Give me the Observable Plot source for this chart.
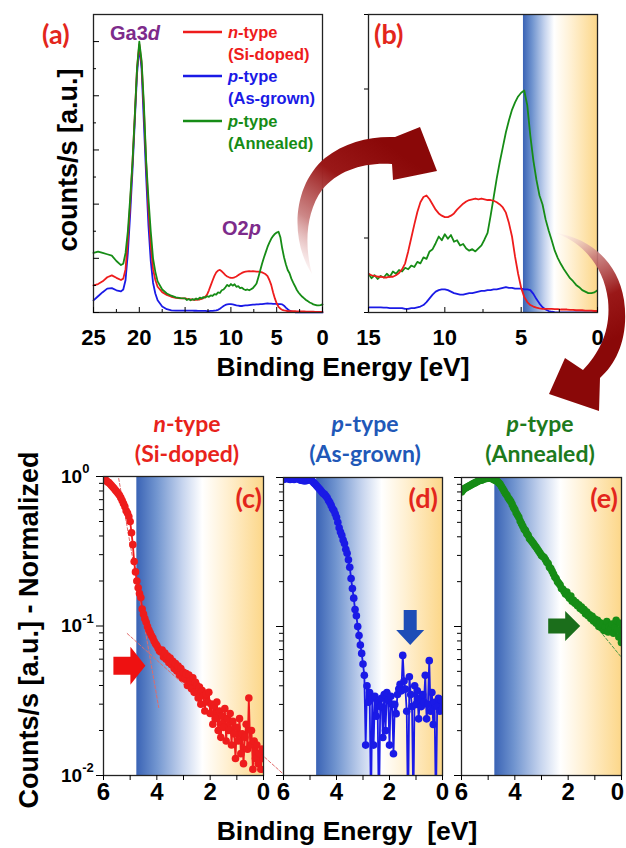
<!DOCTYPE html>
<html><head><meta charset="utf-8">
<script src="https://cdn.jsdelivr.net/npm/d3@7"></script>
<script src="https://cdn.jsdelivr.net/npm/@observablehq/plot@0.6"></script>
<style>
html,body{margin:0;padding:0;background:#fff;}
#fig{position:relative;width:626px;height:848px;overflow:hidden;}
</style></head><body>
<div id="fig"></div>
<script>
// ================= DATA =================
// Top panels (a),(b): energies (eV) and intensities normalised to the Ga3d peak
const ga3dEnergy = [25,24.5,24,23.5,23,22.5,22,21.75,21.5,21.25,21,20.75,20.5,20.25,20,19.75,19.5,19.25,19,18.75,18.5,18.25,18,17.5,17,16.5,16,15.5];
const vbEnergyTop = [15,14.8,14.6,14.4,14.2,14,13.8,13.6,13.4,13.2,13,
  12.8,12.6,12.4,12.2,12,11.8,11.6,11.4,11.2,11,
  10.8,10.6,10.4,10.2,10,9.8,9.6,9.4,9.2,9,
  8.8,8.6,8.4,8.2,8,7.8,7.6,7.4,7.2,7,
  6.8,6.6,6.4,6.2,6,5.8,5.6,5.4,5.2,5,
  4.8,4.6,4.4,4.2,4,3.8,3.6,3.4,3.2,3,
  2.8,2.6,2.4,2.2,2,1.8,1.6,1.4,1.2,1,
  0.8,0.6,0.4,0.2,0];

const nTypeGa3d = [0.1,0.105,0.115,0.13,0.137,0.128,0.12,0.125,0.16,0.27,0.4,0.55,0.72,0.9,0.99,0.92,0.75,0.55,0.38,0.25,0.16,0.12,0.095,0.075,0.065,0.058,0.054,0.052];
const pGrownGa3d = [0.045,0.06,0.075,0.088,0.09,0.082,0.078,0.085,0.12,0.22,0.36,0.52,0.7,0.88,0.98,0.9,0.7,0.5,0.32,0.19,0.11,0.07,0.045,0.022,0.012,0.008,0.007,0.007];
const pAnnealGa3d = [0.22,0.225,0.22,0.215,0.21,0.19,0.175,0.18,0.22,0.3,0.42,0.55,0.72,0.9,1.0,0.93,0.77,0.56,0.42,0.3,0.2,0.15,0.115,0.085,0.07,0.062,0.056,0.053];

const nTypeVB = [0.052,0.050,0.049,0.048,0.048,0.047,0.047,0.048,0.048,0.050,0.053,
  0.058,0.066,0.082,0.100,0.118,0.135,0.148,0.155,0.157,0.152,
  0.145,0.138,0.133,0.130,0.128,0.128,0.130,0.133,0.138,0.142,
  0.146,0.149,0.151,0.152,0.153,0.152,0.153,0.152,0.151,0.151,
  0.150,0.148,0.145,0.141,0.134,0.120,0.102,0.075,0.052,0.033,
  0.021,0.014,0.010,0.008,0.0065,0.0055,0.005,0.005,0.005,0.0048,
  0.0045,0.0045,0.004,0.004,0.004,0.0035,0.0035,0.003,0.003,0.003,
  0.0025,0.0025,0.0025,0.002,0.002];
const pGrownVB = [0.007,0.007,0.007,0.007,0.007,0.0065,0.0065,0.006,0.006,0.006,0.006,
  0.006,0.005,0.005,0.006,0.006,0.007,0.008,0.010,0.014,0.019,
  0.024,0.028,0.030,0.031,0.031,0.030,0.028,0.026,0.025,0.024,
  0.024,0.025,0.026,0.026,0.027,0.028,0.029,0.029,0.030,0.030,
  0.031,0.031,0.032,0.033,0.034,0.033,0.033,0.032,0.032,0.032,
  0.031,0.031,0.030,0.025,0.018,0.012,0.007,0.004,0.002,0.001,
  0.0005,0.0003,0.0002,0.0002,0.0001,0.0001,0.0001,0.0001,0.0001,0.0001,
  0.0001,0.0001,0.0001,0.0001,0.0001];
const pAnnealVB = [0.052,0.046,0.050,0.045,0.049,0.047,0.052,0.048,0.055,0.052,0.057,
  0.055,0.060,0.058,0.063,0.061,0.068,0.066,0.074,0.072,0.082,
  0.085,0.093,0.102,0.097,0.105,0.099,0.104,0.095,0.097,0.090,
  0.092,0.086,0.083,0.085,0.082,0.086,0.090,0.098,0.107,0.130,
  0.155,0.180,0.202,0.222,0.242,0.258,0.272,0.282,0.290,0.295,
  0.298,0.278,0.237,0.204,0.178,0.157,0.145,0.125,0.110,0.097,
  0.083,0.073,0.065,0.058,0.052,0.046,0.042,0.037,0.034,0.030,
  0.028,0.026,0.026,0.027,0.030];

// Bottom panels (c),(d),(e): valence-band edge, normalised counts (log scale)
const edgeEnergy = [6,5.95,5.9,5.85,5.8,5.75,5.7,5.65,5.6,5.55,5.5,5.45,5.4,5.35,5.3,5.25,5.2,5.15,5.1,5.05,
  5,4.95,4.9,4.85,4.8,4.75,4.7,4.65,4.6,4.55,4.5,4.45,4.4,4.35,4.3,4.25,4.2,4.15,4.1,4.05,
  4,3.95,3.9,3.85,3.8,3.75,3.7,3.65,3.6,3.55,3.5,3.45,3.4,3.35,3.3,3.25,3.2,3.15,3.1,3.05,
  3,2.95,2.9,2.85,2.8,2.75,2.7,2.65,2.6,2.55,2.5,2.45,2.4,2.35,2.3,2.25,2.2,2.15,2.1,2.05,
  2,1.95,1.9,1.85,1.8,1.75,1.7,1.65,1.6,1.55,1.5,1.45,1.4,1.35,1.3,1.25,1.2,1.15,1.1,1.05,
  1,0.95,0.9,0.85,0.8,0.75,0.7,0.65,0.6,0.55,0.5,0.45,0.4,0.35,0.3,0.25,0.2,0.15,0.1,0.05,
  0];
const nTypeEdge = [0.98,0.96,0.94,0.92,0.91,0.89,0.87,0.85,0.83,0.81,0.79,0.77,0.75,0.72,0.69,0.66,0.63,0.59,0.57,0.54,
  0.50,0.42,0.35,0.27,0.23,0.20,0.18,0.165,0.155,0.13,0.12,0.112,0.106,0.099,0.094,0.09,0.086,0.083,0.079,0.076,
  0.074,0.071,0.068,0.067,0.069,0.062,0.066,0.060,0.063,0.057,0.061,0.055,0.058,0.052,0.056,0.050,0.054,0.047,0.052,0.045,
  0.049,0.044,0.048,0.040,0.047,0.043,0.038,0.045,0.036,0.042,0.040,0.033,0.039,0.030,0.037,0.034,0.027,0.035,0.031,0.036,
  0.026,0.030,0.022,0.029,0.024,0.031,0.020,0.027,0.018,0.025,0.021,0.028,0.017,0.024,0.020,0.026,0.016,0.023,0.019,0.013,
  0.021,0.017,0.024,0.014,0.019,0.012,0.018,0.022,0.015,0.033,0.016,0.020,0.011,0.017,0.013,0.016,0.012,0.014,0.011,0.015,
  0.013];
const pGrownEdge = [0.97,0.98,0.99,0.98,0.98,0.97,0.99,0.98,0.97,0.98,0.99,0.98,0.97,0.96,0.96,0.95,0.95,0.95,0.96,0.97,
  0.97,0.96,0.94,0.92,0.90,0.88,0.86,0.84,0.82,0.80,0.78,0.77,0.75,0.73,0.70,0.68,0.65,0.62,0.60,0.57,
  0.54,0.50,0.46,0.43,0.41,0.38,0.36,0.33,0.31,0.28,0.25,0.21,0.18,0.155,0.13,0.118,0.10,0.087,0.075,0.066,
  0.056,0.047,0.016,0.040,0.031,0.036,0.006,0.033,0.016,0.034,0.025,0.031,0.005,0.029,0.033,0.018,0.035,0.020,0.036,0.032,
  0.016,0.034,0.030,0.014,0.030,0.026,0.035,0.038,0.041,0.037,0.064,0.043,0.038,0.027,0.005,0.046,0.035,0.029,0.006,0.040,
  0.030,0.037,0.024,0.033,0.029,0.035,0.031,0.047,0.024,0.030,0.059,0.027,0.036,0.022,0.031,0.006,0.029,0.033,0.027,0.032,
  0.028];
const pAnnealEdge = [0.80,0.82,0.84,0.85,0.86,0.87,0.88,0.89,0.90,0.91,0.92,0.93,0.94,0.95,0.96,0.96,0.97,0.98,0.98,0.99,
  0.99,1.0,0.99,0.98,0.97,0.96,0.95,0.94,0.92,0.90,0.87,0.84,0.81,0.78,0.76,0.73,0.71,0.69,0.66,0.63,
  0.61,0.58,0.56,0.54,0.51,0.49,0.47,0.45,0.44,0.42,0.41,0.39,0.38,0.37,0.36,0.35,0.34,0.33,0.32,0.31,
  0.30,0.295,0.29,0.28,0.27,0.265,0.25,0.245,0.235,0.225,0.215,0.21,0.20,0.195,0.19,0.18,0.178,0.172,0.165,0.17,
  0.16,0.155,0.16,0.148,0.15,0.143,0.145,0.138,0.14,0.132,0.135,0.128,0.13,0.122,0.125,0.118,0.12,0.113,0.117,0.109,
  0.112,0.105,0.11,0.10,0.106,0.098,0.104,0.094,0.10,0.108,0.092,0.10,0.096,0.104,0.09,0.098,0.11,0.095,0.085,0.105,
  0.078];

// Linear-extrapolation (dashed) guide lines
const fitSteepC = [{E:5.43, v:0.97}, {E:3.93, v:0.0285}];
const fitTailC  = [{E:5.11, v:0.089}, {E:-0.75, v:0.0102}];
const fitTailE  = [{E:2.6, v:0.23}, {E:0, v:0.062}];

// Shaded gap region start (eV)
const gapStartB = 4.85;
const gapStartEdge = 4.75;

// Block-arrow annotations (data coordinates)
const arrowC = {tail:5.61, tip:4.41, v:0.0538};
const arrowD = {E:1.2, top:0.128, tip:0.0745};
const arrowE = {tail:2.73, tip:1.53, v:0.1};

// Ticks
const xTicksA = [25,20,15,10,5,0], xMinorA = [22.5,17.5,12.5,7.5,2.5];
const xTicksB = [15,10,5,0], xMinorB = [12.5,7.5,2.5];
const xTicksEdge = [6,4,2,0], xMinorEdge = [5,3,1];
const yMajorA = [0,0.2,0.4,0.6,0.8,1.0], yMinorA = [0.1,0.3,0.5,0.7,0.9];
const yTicksB = [0,0.1,0.2,0.3,0.4];
const logMajor = [0.01,0.1,1];
const logMinor = [0.02,0.03,0.04,0.05,0.06,0.07,0.08,0.09,0.2,0.3,0.4,0.5,0.6,0.7,0.8,0.9];
const logLabels = [{v:1, exp:"0"}, {v:0.1, exp:"-1"}, {v:0.01, exp:"-2"}];

// ================= DRAWING =================
const RED = "#ee1c1c", BLUE = "#1a1ae6", GREEN = "#168c16";
const axisFont = "'Liberation Sans', Arial, Helvetica, sans-serif";
const titleFont = "Lato, 'Open Sans', sans-serif";
const fig = document.getElementById("fig");

const styleBase = {fontFamily: axisFont, fontWeight: "bold", fontSize: "22px", color: "#000", background: "transparent", overflow: "visible"};

function rows(E, V) { return E.map((e, i) => ({E: e, v: V[i]})); }
const topE = ga3dEnergy.concat(vbEnergyTop);
const topRed = rows(topE, nTypeGa3d.concat(nTypeVB));
const topBlue = rows(topE, pGrownGa3d.concat(pGrownVB));
const topGreen = rows(topE, pAnnealGa3d.concat(pAnnealVB));

function place(svg, left, top) {
  svg.style.position = "absolute";
  svg.style.left = left + "px";
  svg.style.top = top + "px";
  fig.appendChild(svg);
  return svg;
}

// hidden defs (gradients)
const defs = d3.select(fig).append("svg").attr("width", 0).attr("height", 0).style("position", "absolute").append("defs");
function gap(id, whiteAt) {
  const g = defs.append("linearGradient").attr("id", id).attr("x1", 0).attr("x2", 1).attr("y1", 0).attr("y2", 0);
  [[0, "#3a63b5"], [whiteAt * 0.3, "#7094cf"], [whiteAt * 0.7, "#c6d4ee"], [whiteAt, "#ffffff"],
   [whiteAt + (1 - whiteAt) * 0.4, "#fff0d2"], [1, "#fcd78a"]]
    .forEach(([o, c]) => g.append("stop").attr("offset", o).attr("stop-color", c));
}
gap("gradB", 0.42);
gap("gradEdge", 0.52);

// ---------- (a) ----------
const plotA = place(Plot.plot({
  width: 340, height: 400, marginLeft: 93, marginRight: 18, marginTop: 14, marginBottom: 88,
  style: styleBase,
  x: {domain: [25, 0]}, y: {domain: [0, 1.1]},
  marks: [
    Plot.line(topBlue, {x: "E", y: "v", stroke: BLUE, strokeWidth: 1.8}),
    Plot.line(topRed, {x: "E", y: "v", stroke: RED, strokeWidth: 1.8}),
    Plot.line(topGreen, {x: "E", y: "v", stroke: GREEN, strokeWidth: 1.8}),
    Plot.frame({stroke: "#222", strokeWidth: 1.3}),
    Plot.axisX(xTicksA, {tickSize: 0, tickPadding: 17, fontSize: 22, fontWeight: "bold", label: null}),
    Plot.axisX(xTicksA, {tickSize: -5, fill: "none", label: null}),
    Plot.axisX(xMinorA, {tickSize: -3, fill: "none", label: null}),
    Plot.axisY(yMajorA, {tickSize: -6, fill: "none", label: null}),
    Plot.axisY(yMinorA, {tickSize: -3, fill: "none", label: null})
  ]
}), 0, 0);

// ---------- (b) ----------
const plotB = place(Plot.plot({
  width: 286, height: 400, marginLeft: 28, marginRight: 29, marginTop: 14, marginBottom: 88,
  style: styleBase,
  x: {domain: [15, 0]}, y: {domain: [0, 0.4]},
  marks: [
    Plot.rect([{E0: gapStartB, E1: 0, v0: 0, v1: 0.4}], {x1: "E0", x2: "E1", y1: "v0", y2: "v1", fill: "url(#gradB)"}),
    Plot.line(topBlue, {x: "E", y: "v", stroke: BLUE, strokeWidth: 1.8, clip: true}),
    Plot.line(topGreen, {x: "E", y: "v", stroke: GREEN, strokeWidth: 1.8, clip: true}),
    Plot.line(topRed, {x: "E", y: "v", stroke: RED, strokeWidth: 1.8, clip: true}),
    Plot.frame({stroke: "#222", strokeWidth: 1.3}),
    Plot.axisX(xTicksB, {tickSize: 0, tickPadding: 17, fontSize: 22, fontWeight: "bold", label: null}),
    Plot.axisX(xTicksB, {tickSize: -5, fill: "none", label: null}),
    Plot.axisX(xMinorB, {tickSize: -3, fill: "none", label: null}),
    Plot.axisY(yTicksB, {tickSize: 4, fill: "none", label: null})
  ]
}), 340, 0);

// ---------- (c),(d),(e) ----------
function edgePlot(data, color, {width, ml, mr, mt, labelDx = 0}, extra = []) {
  return Plot.plot({
    width, height: 448, marginLeft: ml, marginRight: mr, marginTop: mt, marginBottom: 73,
    style: styleBase,
    x: {domain: [6, 0]}, y: {type: "log", domain: [0.01, 1]},
    marks: [
      Plot.rect([{E0: gapStartEdge, E1: 0, v0: 0.01, v1: 1}], {x1: "E0", x2: "E1", y1: "v0", y2: "v1", fill: "url(#gradEdge)"}),
      ...extra,
      Plot.line(data, {x: "E", y: "v", stroke: color, strokeWidth: 1.8, clip: true}),
      Plot.dot(data, {x: "E", y: "v", r: 3.8, fill: color, clip: true}),
      Plot.frame({stroke: "#222", strokeWidth: 1.3}),
      Plot.axisX(xTicksEdge.slice(0, 3), {tickSize: 0, tickPadding: 7, fontSize: 24, fontWeight: "bold", label: null}),
      Plot.axisX(xTicksEdge.slice(3), {tickSize: 0, tickPadding: 7, fontSize: 24, fontWeight: "bold", label: null, dx: labelDx}),
      Plot.axisX(xTicksEdge.concat(xMinorEdge), {tickSize: 5, fill: "none", label: null}),
      Plot.axisY(logMajor, {tickSize: 7, fill: "none", label: null}),
      Plot.axisY(logMinor, {tickSize: 4, fill: "none", label: null})
    ]
  });
}
const dash = {x: "E", y: "v", stroke: "#e06a6a", strokeWidth: 1, strokeDasharray: "3,2"};
const plotC = place(edgePlot(rows(edgeEnergy, nTypeEdge), RED, {width: 272, ml: 103, mr: 9, mt: 76},
  [Plot.line(fitSteepC, dash), Plot.line(fitTailC, dash)]), 0, 400);
const plotD = place(edgePlot(rows(edgeEnergy, pGrownEdge), BLUE, {width: 180, ml: 11, mr: 10, mt: 77}), 272, 400);
const plotE = place(edgePlot(rows(edgeEnergy, pAnnealEdge), GREEN, {width: 174, ml: 9, mr: 5, mt: 77, labelDx: -4},
  [Plot.line(fitTailE, {x: "E", y: "v", stroke: "#4a9a4a", strokeWidth: 1, strokeDasharray: "3,2"})]), 452, 400);

// ---------- overlay: texts & arrows ----------
const ov = d3.select(fig).append("svg").attr("width", 626).attr("height", 848)
  .style("position", "absolute").style("left", 0).style("top", 0).style("pointer-events", "none");
const odefs = ov.append("defs");
function arrowGrad(id, x1, y1, x2, y2) {
  const g = odefs.append("linearGradient").attr("id", id).attr("gradientUnits", "userSpaceOnUse")
    .attr("x1", x1).attr("y1", y1).attr("x2", x2).attr("y2", y2);
  [[0, "#fbeaea", 0.4], [0.3, "#c77a7a", 0.9], [0.65, "#9a1818", 1], [1, "#8a0808", 1]]
    .forEach(([o, c, a]) => g.append("stop").attr("offset", o).attr("stop-color", c).attr("stop-opacity", a));
}
arrowGrad("arr1", 310, 275, 395, 150);
arrowGrad("arr2", 560, 234, 612, 340);

ov.append("path").attr("fill", "url(#arr1)")
  .attr("d", "M312,274 C290,240 292,186 325,158 C345,142 370,136 395,137 L420,127 L437,171 L393,180 L392,164 C365,162 338,170 322,190 C306,212 304,245 312,274 Z");
ov.append("path").attr("fill", "url(#arr2)")
  .attr("d", "M556,233 C590,238 618,262 624,300 C629,335 618,362 600,378 L599,411 L549,394 L565,358 L583,370 C600,352 611,330 608,300 C604,268 585,244 556,233 Z");

function text(x, y, parts, o = {}) {
  const t = ov.append("text").attr("x", x).attr("y", y)
    .attr("font-family", o.family || axisFont).attr("font-size", o.size || 20)
    .attr("font-weight", "bold").attr("fill", o.fill || "#000")
    .attr("text-anchor", o.anchor || "start").attr("dominant-baseline", "central");
  if (o.rotate) t.attr("transform", `rotate(-90 ${x} ${y})`);
  for (const p of parts) {
    const [s, it] = Array.isArray(p) ? p : [p, false];
    t.append("tspan").text(s).attr("font-style", it ? "italic" : null);
  }
  return t;
}

// panel letters
const LETTER = "#e3261c";
text(42, 33, ["(a)"], {family: titleFont, size: 27, fill: LETTER});
text(374, 33, ["(b)"], {family: titleFont, size: 27, fill: LETTER});
text(262, 497, ["(c)"], {family: titleFont, size: 27, fill: LETTER, anchor: "end"});
text(438, 497, ["(d)"], {family: titleFont, size: 27, fill: LETTER, anchor: "end"});
text(618, 497, ["(e)"], {family: titleFont, size: 27, fill: LETTER, anchor: "end"});

// peak labels
const PURPLE = "#7d2b8b";
text(110, 33, ["Ga3", ["d", true]], {size: 20, fill: PURPLE});
text(222, 228, ["O2", ["p", true]], {size: 20, fill: PURPLE});

// legend of (a)
const legend = [
  {y: 32, c: RED, l1: [["n", true], "-type"], l2: "(Si-doped)"},
  {y: 76, c: BLUE, l1: [["p", true], "-type"], l2: "(As-grown)"},
  {y: 121, c: GREEN, l1: [["p", true], "-type"], l2: "(Annealed)"}
];
for (const L of legend) {
  ov.append("line").attr("x1", 183).attr("x2", 222).attr("y1", L.y).attr("y2", L.y).attr("stroke", L.c).attr("stroke-width", 2.5);
  text(228, L.y, L.l1, {size: 16.5, fill: L.c});
  text(228, L.y + 22, [L.l2], {size: 16.5, fill: L.c});
}

// axis titles
text(68, 160, ["counts/s [a.u.]"], {size: 27, anchor: "middle", rotate: true});
text(343, 367, ["Binding Energy [eV]"], {size: 26.5, anchor: "middle"});
text(29, 630, ["Counts/s [a.u.] - Normalized"], {size: 27, anchor: "middle", rotate: true});
text(347, 831, ["Binding Energy\u00a0 [eV]"], {size: 26.5, anchor: "middle"});

// bottom titles
const titles = [
  {x: 187, c: "#e8231b", l1: [["n", true], "-type"], l2: "(Si-doped)"},
  {x: 365, c: "#2158b8", l1: [["p", true], "-type"], l2: "(As-grown)"},
  {x: 540, c: "#1d7a1d", l1: [["p", true], "-type"], l2: "(Annealed)"}
];
for (const T of titles) {
  text(T.x, 423, T.l1, {family: titleFont, size: 23, fill: T.c, anchor: "middle"});
  text(T.x, 453, [T.l2], {family: titleFont, size: 23, fill: T.c, anchor: "middle"});
}

// log tick labels on (c)
const yC = plotC.scale("y"), xC = plotC.scale("x");
for (const L of logLabels) {
  const y = 400 + yC.apply(L.v);
  const t = ov.append("text").attr("x", 61).attr("y", y).attr("font-family", axisFont).attr("font-weight", "bold")
    .attr("font-size", 19).attr("dominant-baseline", "central").text("10");
  t.append("tspan").attr("font-size", 13).attr("dy", -8).text(L.exp);
}

// block arrows (positions from the panels' scales)
function rightArrow(x0, x1, cy, shaftH, headH, headL, color) {
  const xb = x1 - headL;
  ov.append("path").attr("fill", color).attr("d",
    `M${x0},${cy - shaftH / 2} L${xb},${cy - shaftH / 2} L${xb},${cy - headH / 2} L${x1},${cy} L${xb},${cy + headH / 2} L${xb},${cy + shaftH / 2} L${x0},${cy + shaftH / 2} Z`);
}
function downArrow(cx, y0, y1, shaftW, headW, headL, color) {
  const yb = y1 - headL;
  ov.append("path").attr("fill", color).attr("d",
    `M${cx - shaftW / 2},${y0} L${cx - shaftW / 2},${yb} L${cx - headW / 2},${yb} L${cx},${y1} L${cx + headW / 2},${yb} L${cx + shaftW / 2},${yb} L${cx + shaftW / 2},${y0} Z`);
}
rightArrow(0 + xC.apply(arrowC.tail), 0 + xC.apply(arrowC.tip), 400 + yC.apply(arrowC.v), 18, 38, 15, "#ee1111");
const xD = plotD.scale("x"), yD = plotD.scale("y");
downArrow(272 + xD.apply(arrowD.E), 400 + yD.apply(arrowD.top), 400 + yD.apply(arrowD.tip), 13, 28, 15, "#1e4db7");
const xE = plotE.scale("x"), yE = plotE.scale("y");
rightArrow(452 + xE.apply(arrowE.tail), 452 + xE.apply(arrowE.tip), 400 + yE.apply(arrowE.v), 15, 30, 15, "#1b6e1b");
</script>
</body></html>
